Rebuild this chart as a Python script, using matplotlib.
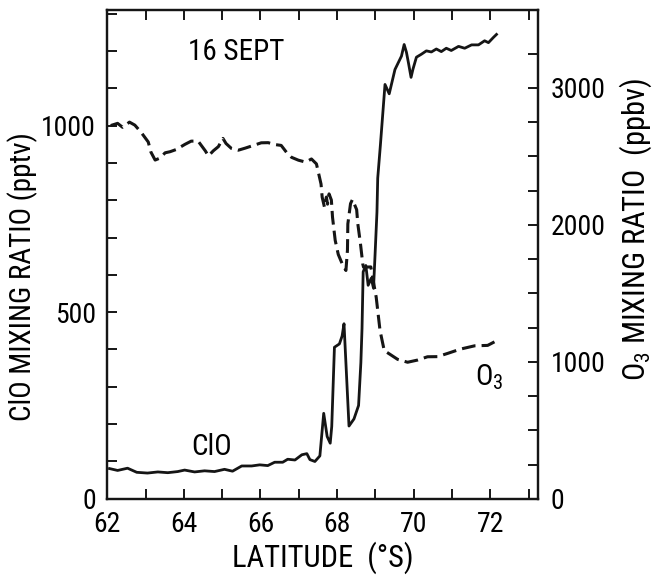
import matplotlib
matplotlib.use('Agg')
import matplotlib.pyplot as plt
from matplotlib import font_manager
from matplotlib.ticker import MultipleLocator, FixedLocator

# ClO (pptv) along the flight track, latitude in deg S
clo_lat = [62.06, 62.27, 62.53, 62.77, 63.05, 63.32, 63.58, 63.84, 64.02, 64.28,
           64.54, 64.80, 65.06, 65.27, 65.51, 65.77, 65.98, 66.19, 66.37, 66.58,
           66.71, 66.90, 67.08, 67.21, 67.29, 67.42, 67.55, 67.65, 67.74, 67.82,
           67.86, 67.93, 68.06, 68.13, 68.18, 68.31, 68.44, 68.56, 68.62, 68.65,
           68.68, 68.75, 68.81, 68.89, 68.95, 68.99, 69.04, 69.06, 69.13, 69.25,
           69.36, 69.51, 69.68, 69.75, 69.81, 69.86, 69.93, 69.98, 70.07, 70.20,
           70.33, 70.46, 70.59, 70.72, 70.85, 70.98, 71.17, 71.33, 71.51, 71.69,
           71.85, 71.95, 72.08, 72.16]
clo_val = [81, 76, 82, 71, 69, 72, 70, 73, 77, 72,
           75, 73, 79, 74, 88, 88, 91, 89, 98, 98,
           106, 104, 118, 121, 105, 100, 115, 229, 167, 149,
           194, 406, 415, 436, 469, 195, 214, 250, 365, 456,
           608, 625, 572, 591, 564, 653, 768, 859, 948, 1110,
           1085, 1150, 1186, 1217, 1196, 1169, 1129, 1151, 1183, 1191,
           1200, 1197, 1205, 1198, 1207, 1201, 1212, 1207, 1216, 1216,
           1227, 1222, 1236, 1244]

# O3 (ppbv)
o3_lat = [62.09, 62.27, 62.40, 62.58, 62.72, 62.88, 63.07, 63.14, 63.25, 63.38,
          63.51, 63.64, 63.80, 64.03, 64.19, 64.37, 64.56, 64.64, 64.77, 64.90,
          65.02, 65.10, 65.24, 65.42, 65.60, 65.86, 66.02, 66.20, 66.38, 66.54,
          66.68, 66.81, 66.99, 67.18, 67.33, 67.46, 67.52, 67.58, 67.61, 67.67,
          67.72, 67.75, 67.79, 67.85, 67.88, 67.95, 68.03, 68.14, 68.23, 68.27,
          68.28, 68.35, 68.40, 68.51, 68.54, 68.61, 68.67, 68.69, 68.80, 68.88,
          68.94, 69.02, 69.12, 69.23, 69.39, 69.58, 69.84, 70.10, 70.36, 70.62,
          70.89, 71.22, 71.59, 71.93, 72.19]
o3_val = [2725, 2741, 2712, 2750, 2728, 2677, 2605, 2531, 2473, 2488,
          2526, 2534, 2550, 2588, 2611, 2612, 2540, 2503, 2541, 2571,
          2631, 2594, 2558, 2545, 2560, 2584, 2599, 2600, 2586, 2580,
          2529, 2493, 2472, 2458, 2481, 2445, 2372, 2298, 2202, 2129,
          2203, 2151, 2226, 2181, 2056, 1887, 1784, 1711, 1667, 1815,
          2007, 2155, 2185, 2111, 2008, 1861, 1714, 1691, 1692, 1693,
          1597, 1472, 1229, 1082, 1053, 1018, 997, 1013, 1037, 1038,
          1062, 1093, 1117, 1120, 1158]

x_labels = [62, 64, 66, 68, 70, 72]

installed = {f.name for f in font_manager.fontManager.ttflist}
fam = 'DejaVu Sans'
for name in ['Liberation Sans Narrow', 'DejaVu Sans Condensed', 'Roboto Condensed']:
    if name in installed:
        fam = name
        break
narrow = fam != 'DejaVu Sans'
fs = 20 if narrow else 15
fl = 22 if narrow else 16
plt.rcParams['font.family'] = [fam, 'DejaVu Sans']
plt.rcParams['mathtext.fontset'] = 'custom'
plt.rcParams['mathtext.rm'] = fam

fig = plt.figure(figsize=(6.54, 5.76), dpi=100)
ax = fig.add_axes([0.164, 0.134, 0.659, 0.849])
ax2 = ax.twinx()

ink = '#151515'
ax.plot(clo_lat, clo_val, color=ink, lw=2.0, solid_joinstyle='round')
ax2.plot(o3_lat, o3_val, color=ink, lw=2.2, linestyle=(0, (4.5, 2.0)))

ax.set_xlim(62, 73.25)
ax.set_ylim(0, 1310)
ax2.set_ylim(0, 3570)

ax.xaxis.set_major_locator(FixedLocator(x_labels))
ax.xaxis.set_minor_locator(MultipleLocator(1))
ax.yaxis.set_major_locator(FixedLocator([0, 500, 1000]))
ax.yaxis.set_minor_locator(MultipleLocator(100))
ax2.yaxis.set_major_locator(FixedLocator([0, 1000, 2000, 3000]))
ax2.yaxis.set_minor_locator(FixedLocator([250 * i for i in range(1, 14)]))

for a in (ax, ax2):
    for s in a.spines.values():
        s.set_linewidth(1.6)
        s.set_color(ink)
ax.tick_params(which='both', direction='in', top=True, length=7, width=1.4,
               color=ink, labelsize=fs)
ax.tick_params(axis='x', pad=9)
ax.tick_params(axis='y', pad=8)
ax2.tick_params(which='both', direction='in', length=7, width=1.4,
                color=ink, labelsize=fs, pad=9)

ax.set_xlabel('LATITUDE  (°S)', fontsize=fl, labelpad=2)
ax.set_ylabel('ClO MIXING RATIO (pptv)', fontsize=fl - 1)
ax.yaxis.set_label_coords(-0.16, 0.455)
ax2.set_ylabel('O$_3$ MIXING RATIO  (ppbv)', fontsize=fl)
ax2.yaxis.set_label_coords(1.183, 0.55)

ax.text(0.188, 0.914, '16 SEPT', transform=ax.transAxes, fontsize=fs + 1,
        va='center')
ax.text(64.2, 118, 'ClO', fontsize=fs + 1)
ax2.text(71.6, 830, 'O$_3$', fontsize=fs + 1)

fig.savefig('out.png', dpi=100)
